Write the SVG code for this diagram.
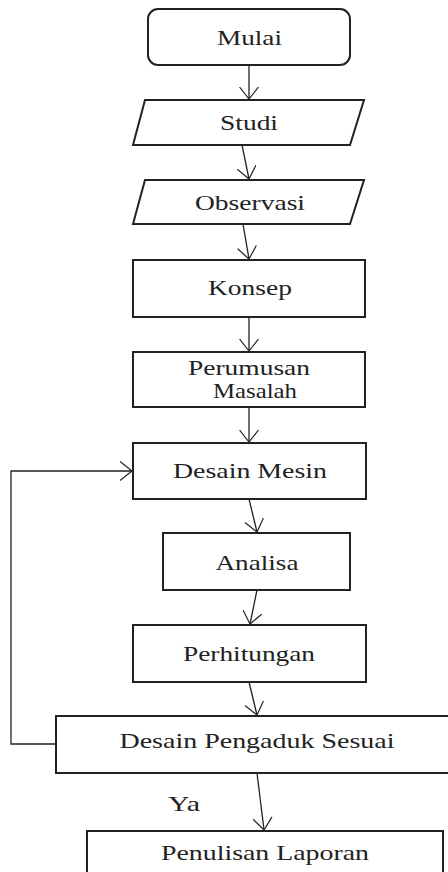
<svg xmlns="http://www.w3.org/2000/svg" width="448" height="872" viewBox="0 0 448 872">
<defs>
<marker id="arr" viewBox="0 0 13 20" refX="12.5" refY="10" markerWidth="13" markerHeight="20" markerUnits="userSpaceOnUse" orient="auto">
<path d="M0.5,0.5 L12.5,10 L0.5,19.5" fill="none" stroke="#222" stroke-width="1.2"/>
</marker>
</defs>
<style>
.box{fill:#fff;stroke:#222;stroke-width:2}
.lbl{font-family:"Liberation Serif","Times New Roman",serif;font-size:21px;fill:#222;text-anchor:middle}
.con{fill:none;stroke:#222;stroke-width:1.3;marker-end:url(#arr)}
.loop{fill:none;stroke:#222;stroke-width:1.3}
</style>
<rect width="448" height="872" fill="#fff"/>
<g id="connectors">
<line class="con" x1="249" y1="65" x2="249" y2="99"/>
<line class="con" x1="242" y1="145" x2="249" y2="179"/>
<line class="con" x1="243" y1="224" x2="249" y2="259"/>
<line class="con" x1="249" y1="317" x2="249" y2="351"/>
<line class="con" x1="249" y1="407" x2="249" y2="442"/>
<line class="con" x1="249" y1="499" x2="257" y2="532"/>
<line class="con" x1="257" y1="590" x2="250" y2="624"/>
<line class="con" x1="249" y1="682" x2="257" y2="715"/>
<line class="con" x1="257" y1="773" x2="264" y2="830"/>
<polyline class="loop" points="56,744 11,744 11,471 132,471" style="marker-end:url(#arr)"/>
<text class="lbl" x="184" y="811" textLength="32" lengthAdjust="spacingAndGlyphs">Ya</text>
</g>
<g id="mulai">
<rect class="box" x="148" y="9" width="202" height="56" rx="10"/>
<text class="lbl" x="249.5" y="45" textLength="65" lengthAdjust="spacingAndGlyphs">Mulai</text>
</g>
<g id="studi">
<polygon class="box" points="145,100 364,100 350,145 133,145"/>
<text class="lbl" x="249" y="130" textLength="58" lengthAdjust="spacingAndGlyphs">Studi</text>
</g>
<g id="observasi">
<polygon class="box" points="145,180 364,180 350,224 133,224"/>
<text class="lbl" x="250" y="210" textLength="110" lengthAdjust="spacingAndGlyphs">Observasi</text>
</g>
<g id="konsep">
<rect class="box" x="133" y="260" width="232" height="57"/>
<text class="lbl" x="250" y="295" textLength="84" lengthAdjust="spacingAndGlyphs">Konsep</text>
</g>
<g id="perumusan">
<rect class="box" x="133" y="352" width="232" height="55"/>
<text class="lbl" x="249" y="375" textLength="122" lengthAdjust="spacingAndGlyphs">Perumusan</text>
<text class="lbl" x="255" y="398" textLength="84" lengthAdjust="spacingAndGlyphs">Masalah</text>
</g>
<g id="desain-mesin">
<rect class="box" x="133" y="443" width="233" height="56"/>
<text class="lbl" x="250" y="478" textLength="154" lengthAdjust="spacingAndGlyphs">Desain Mesin</text>
</g>
<g id="analisa">
<rect class="box" x="163" y="533" width="187" height="57"/>
<text class="lbl" x="257" y="570" textLength="83" lengthAdjust="spacingAndGlyphs">Analisa</text>
</g>
<g id="perhitungan">
<rect class="box" x="133" y="625" width="233" height="57"/>
<text class="lbl" x="249" y="661" textLength="132" lengthAdjust="spacingAndGlyphs">Perhitungan</text>
</g>
<g id="desain-pengaduk">
<rect class="box" x="56" y="716" width="410" height="57"/>
<text class="lbl" x="257" y="748" textLength="275" lengthAdjust="spacingAndGlyphs">Desain Pengaduk Sesuai</text>
</g>
<g id="penulisan">
<rect class="box" x="87" y="831" width="356" height="60"/>
<text class="lbl" x="265" y="860" textLength="208" lengthAdjust="spacingAndGlyphs">Penulisan Laporan</text>
</g>
</svg>
